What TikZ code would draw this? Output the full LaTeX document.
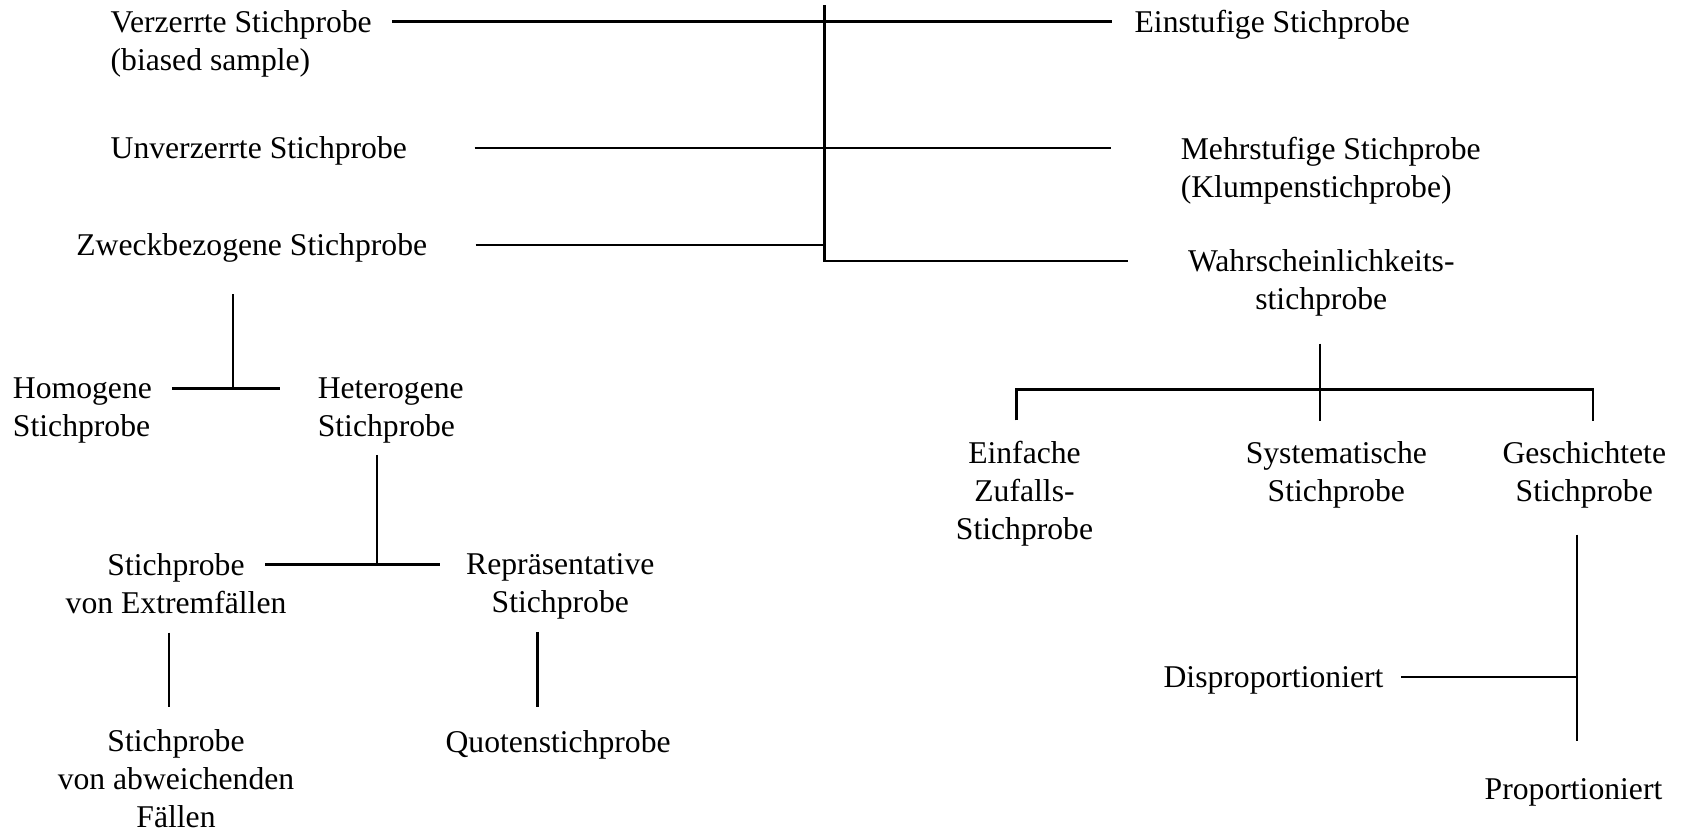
\documentclass[tikz,border=0pt]{standalone}
\usepackage{fontspec}
\setmainfont{Liberation Serif}
\tikzset{
	lbl/.style={inner sep=0pt,align=center},
	lbll/.style={inner sep=0pt,align=left,anchor=west},
}
\begin{document}
\begin{tikzpicture}[x=0.5pt,y=-0.5pt,line width=1.1pt,font=\fontsize{14.75}{17.7}\selectfont]
		\useasboundingbox (0,0) rectangle (1568,774);
		% upper part
		\node[lbll] (verz) at (102,40.5) {Verzerrte Stichprobe\\(biased sample)};
		\node[lbll] (unv) at (102,141) {Unverzerrte Stichprobe};
		\node[lbll] (zweck) at (70,231) {Zweckbezogene Stichprobe};
		\node[lbll] (ein) at (1056,23) {Einstufige Stichprobe};
		\node[lbll] (mehr) at (1099,159) {Mehrstufige Stichprobe\\(Klumpenstichprobe)};
		\node[lbl] (wahr) at (1231,264) {Wahrscheinlichkeits-\\stichprobe};
		\coordinate (ttop) at (768,5);
		\coordinate (t1) at (768,20);
		\coordinate (t2) at (768,138);
		\coordinate (t3) at (768,228);
		\coordinate (tc) at (768,243);
		\draw [shorten >=27.5pt] (ttop)--(tc)--(wahr.west |- tc);
		\draw [shorten <=9pt,shorten >=10pt] (verz.east |- t1)--(ein.west |- t1);
		\draw [shorten <=31pt,shorten >=32pt] (unv.east |- t2)--(mehr.west |- t2);
		\draw [shorten <=22pt] (zweck.east |- t3)--(t3);
		% left tree
		\node[lbll] (homo) at (11,382.5) {Homogene\\Stichprobe};
		\node[lbll] (hetero) at (295,382.5) {Heterogene\\Stichprobe};
		\node[lbl] (extrem) at (164,543.5) {Stichprobe\\von Extremfällen};
		\node[lbl] (repr) at (522,546.5) {Repräsentative\\Stichprobe};
		\node[lbl] (abw) at (164,725) {Stichprobe\\von abweichenden\\Fällen};
		\node[lbl] (quote) at (520,694) {Quotenstichprobe};
		\coordinate (j1) at (217,362);
		\coordinate (j2) at (351,526);
		\draw [shorten <=14.4pt] (zweck.south -| j1)--(j1);
		\draw [shorten <=8.8pt,shorten >=17pt] (homo.east |- j1)--(hetero.west |- j1);
		\draw [shorten <=4.8pt] (hetero.south -| j2)--(j2);
		\draw [shorten >=11.75pt] ([xshift=41.6pt]extrem.north |- j2)--(repr.west |- j2);
		\draw [shorten <=8.4pt,shorten >=9.7pt] ([xshift=-3.25pt]extrem.south)--([xshift=-3.25pt]abw.north);
		\draw [shorten <=5.2pt,shorten >=10.3pt] ([xshift=-10.7pt]repr.south)--([xshift=-10.7pt]repr.south |- quote.north);
		% right tree
		\node[lbl] (einf) at (954.5,460) {Einfache\\Zufalls-\\Stichprobe};
		\node[lbl] (syst) at (1245,442) {Systematische\\Stichprobe};
		\node[lbl] (gesch) at (1476,442) {Geschichtete\\Stichprobe};
		\node[lbl,anchor=east] (dispro) at (1290,634) {Disproportioniert};
		\node[lbl] (pro) at (1466,738) {Proportioniert};
		\coordinate (j3) at (1230,363);
		\coordinate (j4) at (1469,631);
		\draw [shorten <=12pt,shorten >=9pt] (wahr.south -| j3)--(syst.north -| j3);
		\draw [shorten <=9.2pt,shorten >=9pt] ([xshift=-3.75pt]einf.north) |- (j3) -| ([xshift=4pt]gesch.north);
		\draw [shorten <=12pt,shorten >=17pt] (gesch.south -| j4)--(pro.north -| j4);
		\draw [shorten <=7.8pt] (dispro.east |- j4)--(j4);
		\end{tikzpicture}
\end{document}
